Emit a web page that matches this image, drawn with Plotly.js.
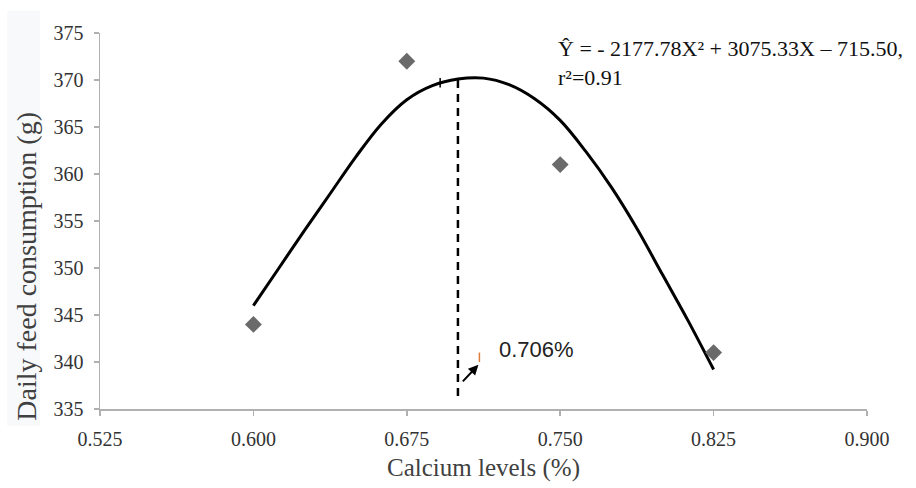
<!DOCTYPE html>
<html>
<head>
<meta charset="utf-8">
<script src="https://cdn.plot.ly/plotly-3.0.1.min.js"></script>
<style>html,body{margin:0;padding:0;background:#fff;}#chart{width:916px;height:488px;}</style>
</head>
<body>
<div id="chart"></div>
<script>
// Observed data
const calciumLevels = [0.600, 0.675, 0.750, 0.825];
const feedConsumption = [344, 372, 361, 341];

// Trend curve
const curveX = [0.600, 0.6125, 0.625, 0.6375, 0.650, 0.6625, 0.675, 0.6875, 0.700, 0.7125, 0.725, 0.7375, 0.750, 0.7625, 0.775, 0.7875, 0.800, 0.8125, 0.825];
const curveY = [346.0, 350.0, 354.0, 357.9, 361.8, 365.3, 367.9, 369.4, 370.1, 370.2, 369.5, 368.0, 365.7, 362.4, 358.6, 354.2, 349.3, 344.4, 339.2];

// Optimum marker line
const optimumX = [0.700, 0.700];
const optimumY = [370.0, 335.8];

const xTicks = [0.525, 0.600, 0.675, 0.750, 0.825, 0.900];
const yTicks = [335, 340, 345, 350, 355, 360, 365, 370, 375];

const serif = '"Liberation Serif", "Times New Roman", serif';

const traces = [
  {
    x: curveX, y: curveY, mode: 'lines', type: 'scatter',
    line: {color: '#000000', width: 3, shape: 'spline', smoothing: 1},
    hoverinfo: 'skip', showlegend: false
  },
  {
    x: optimumX, y: optimumY, mode: 'lines', type: 'scatter',
    line: {color: '#000000', width: 2.5, dash: '8px,6px'},
    hoverinfo: 'skip', showlegend: false
  },
  {
    x: calciumLevels, y: feedConsumption, mode: 'markers', type: 'scatter',
    marker: {symbol: 'diamond', size: 13, color: '#6a6a6a'},
    showlegend: false
  }
];

const layout = {
  width: 916, height: 488,
  margin: {l: 100, r: 49, t: 33, b: 79},
  paper_bgcolor: '#ffffff', plot_bgcolor: '#ffffff',
  showlegend: false,
  xaxis: {
    range: [0.525, 0.900], tickvals: xTicks, tickformat: '.3f',
    showgrid: false, zeroline: false,
    showline: true, linecolor: '#b0b0b0', linewidth: 1.5,
    ticks: 'outside', ticklen: 5, tickcolor: '#b0b0b0', tickwidth: 1.5,
    ticklabelstandoff: 6,
    tickfont: {family: serif, size: 20, color: '#333333'},
    title: {text: 'Calcium levels (%)', font: {family: serif, size: 25, color: '#404040'}, standoff: 10}
  },
  yaxis: {
    range: [335, 375], tickvals: yTicks,
    showgrid: false, zeroline: false,
    showline: true, linecolor: '#b0b0b0', linewidth: 1.5,
    ticks: 'outside', ticklen: 5, tickcolor: '#b0b0b0', tickwidth: 1.5,
    ticklabelstandoff: 6,
    tickfont: {family: serif, size: 20, color: '#333333'}
  },
  shapes: [
    {type: 'rect', xref: 'paper', yref: 'paper', layer: 'below',
     x0: -0.121, x1: -0.078, y0: -0.045, y1: 1.06,
     fillcolor: '#f8f9fa', line: {width: 0}},
    {type: 'line', xref: 'x', yref: 'y', x0: 0.6913, x1: 0.6913, y0: 369.2, y1: 370.2,
     line: {color: '#000000', width: 1.5}},
    {type: 'line', xref: 'x', yref: 'y', x0: 0.7105, x1: 0.7105, y0: 340.0, y1: 341.0,
     line: {color: '#e07b39', width: 1.5}}
  ],
  annotations: [
    {x: -0.0952, y: 0.381, xref: 'paper', yref: 'paper', xanchor: 'center', yanchor: 'middle',
     textangle: -90, showarrow: false, text: 'Daily feed consumption (g)',
     font: {family: serif, size: 28, color: '#404040'}},
    {x: 0.7100, y: 339.7, xref: 'x', yref: 'y', ax: -17, ay: 18,
     showarrow: true, arrowhead: 2, arrowsize: 1, arrowwidth: 2, arrowcolor: '#000000', text: ''},
    {x: 0.7190, y: 341.3, xref: 'x', yref: 'y', xanchor: 'left', yanchor: 'middle',
     showarrow: false, text: '0.706%',
     font: {family: '"Liberation Sans", Arial, sans-serif', size: 22, color: '#222222'}},
    {x: 0.7480, y: 373.4, xref: 'x', yref: 'y', xanchor: 'left', yanchor: 'middle',
     showarrow: false, text: 'Ŷ = - 2177.78X² + 3075.33X – 715.50,',
     font: {family: serif, size: 22, color: '#111111'}},
    {x: 0.7480, y: 370.3, xref: 'x', yref: 'y', xanchor: 'left', yanchor: 'middle',
     showarrow: false, text: 'r²=0.91',
     font: {family: serif, size: 22, color: '#111111'}}
  ]
};

Plotly.newPlot('chart', traces, layout, {displayModeBar: false, staticPlot: true});
</script>
</body>
</html>
